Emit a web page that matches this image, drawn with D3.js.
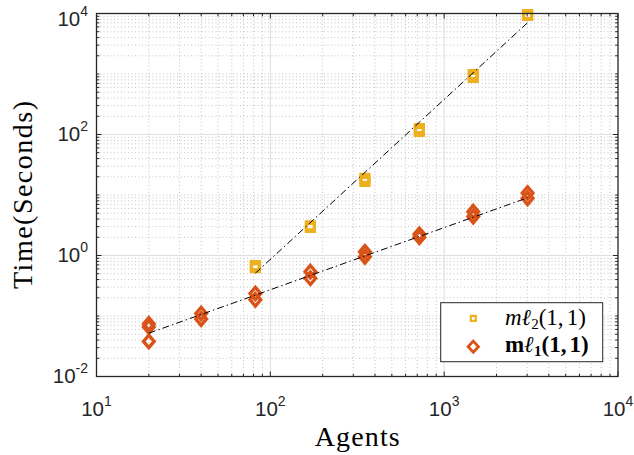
<!DOCTYPE html>
<html>
<head>
<meta charset="utf-8">
<script src="https://cdn.jsdelivr.net/npm/d3@7"></script>
<style>
  html, body { margin: 0; padding: 0; background: #fff; }
  svg { display: block; }
</style>
</head>
<body>
<svg id="chart" width="634" height="455"></svg>
<script>
// Number of agents at each benchmark size
const agents = [20, 40, 82, 170, 350, 720, 1470, 3020];

// Run times (seconds), two runs of mℓ2(1,1); it was not run for the two smallest sizes
const timeMl2RunA = [null, null, 0.63, 2.9, 16.8, 112, 880, 9300];
const timeMl2RunB = [null, null, 0.68, 3.1, 18.8, 125, 980, 9600];

// Run times (seconds) of mℓ1(1,1)
const timeMl1RunA = [0.074, 0.11, 0.235, 0.54, 1.15, 2.25, 5.3, 10.8];
const timeMl1RunB = [0.066, 0.089, 0.185, 0.42, 0.95, 2.0, 4.4, 8.8];
const timeMl1RunC = [0.038, null, null, null, null, null, null, null];

// Power-law fit lines (end points)
const fitMl2Agents = [82, 3020];
const fitMl2Time = [0.51, 7050];
const fitMl1Agents = [20, 3020];
const fitMl1Time = [0.052, 9.0];

// Axis ticks (powers of ten)
const xTickExps = [1, 2, 3, 4];
const yTickExps = [-2, 0, 2, 4];

const colMl2 = "#EDB120";
const colMl1 = "#D95319";
const axisCol = "#262626";

const svg = d3.select("#chart");
const L = 96.5, R = 618, T = 13.5, B = 376.5;

const x = d3.scaleLog().domain([10, 1e4]).range([L, R]);
const y = d3.scaleLog().domain([1e-2, 1e4]).range([B, T]);

// Grid values
const xMajor = xTickExps.map(e => Math.pow(10, e));
const yMajor = yTickExps.map(e => Math.pow(10, e));
const xMinor = [];
for (let e = 1; e < 4; e++) for (let k = 2; k <= 9; k++) xMinor.push(k * Math.pow(10, e));
const yMinor = [];
for (let e = -2; e < 4; e++) for (let k = 1; k <= 9; k++) {
  const v = k * Math.pow(10, e);
  if (!yMajor.some(m => Math.abs(m - v) / m < 1e-9)) yMinor.push(v);
}

const grid = svg.append("g");
// minor grid (dotted)
grid.selectAll("line.xmin").data(xMinor).join("line")
  .attr("x1", d => x(d)).attr("x2", d => x(d)).attr("y1", T).attr("y2", B)
  .attr("stroke", "#c4c4c4").attr("stroke-width", 1).attr("stroke-dasharray", "1,2.5");
grid.selectAll("line.ymin").data(yMinor).join("line")
  .attr("y1", d => y(d)).attr("y2", d => y(d)).attr("x1", L).attr("x2", R)
  .attr("stroke", "#c4c4c4").attr("stroke-width", 1).attr("stroke-dasharray", "1,2.5");
// major grid (solid)
grid.selectAll("line.xmaj").data(xMajor.slice(1, -1)).join("line")
  .attr("x1", d => x(d)).attr("x2", d => x(d)).attr("y1", T).attr("y2", B)
  .attr("stroke", "#dedede").attr("stroke-width", 1);
grid.selectAll("line.ymaj").data(yMajor.slice(1, -1)).join("line")
  .attr("y1", d => y(d)).attr("y2", d => y(d)).attr("x1", L).attr("x2", R)
  .attr("stroke", "#dedede").attr("stroke-width", 1);

// Markers
const sqPath = "M-4,-4H4V4H-4Z";
const dmPath = "M0,-6.2L5.3,0L0,6.2L-5.3,0Z";

function points(vals) {
  return agents.map((a, i) => ({ a, v: vals[i] })).filter(d => d.v != null);
}

const marks = svg.append("g");
[timeMl2RunA, timeMl2RunB].forEach(run => {
  marks.append("g").selectAll("path").data(points(run)).join("path")
    .attr("d", sqPath)
    .attr("transform", d => `translate(${x(d.a)},${y(d.v)})`)
    .attr("fill", "none").attr("stroke", colMl2).attr("stroke-width", 3.2);
});
[timeMl1RunA, timeMl1RunB, timeMl1RunC].forEach(run => {
  marks.append("g").selectAll("path").data(points(run)).join("path")
    .attr("d", dmPath)
    .attr("transform", d => `translate(${x(d.a)},${y(d.v)})`)
    .attr("fill", "none").attr("stroke", colMl1).attr("stroke-width", 3.4)
    .attr("stroke-linejoin", "miter");
});

// Fit lines
const line = d3.line().x(d => x(d[0])).y(d => y(d[1]));
[[fitMl2Agents, fitMl2Time], [fitMl1Agents, fitMl1Time]].forEach(([xs, ys]) => {
  svg.append("path")
    .attr("d", line(xs.map((a, i) => [a, ys[i]])))
    .attr("fill", "none").attr("stroke", "#000").attr("stroke-width", 1)
    .attr("stroke-dasharray", "7,3,1.5,3");
});

// Axes box and ticks (inward on all sides)
const ax = svg.append("g").attr("stroke", axisCol).attr("stroke-width", 1);
const majLen = 5, minLen = 2.8;
ax.selectAll("line.xt").data(xMajor.map(v => [v, majLen]).concat(xMinor.map(v => [v, minLen])))
  .join(enter => {
    const g = enter.append("g");
    g.append("line").attr("x1", d => x(d[0])).attr("x2", d => x(d[0])).attr("y1", B).attr("y2", d => B - d[1]);
    g.append("line").attr("x1", d => x(d[0])).attr("x2", d => x(d[0])).attr("y1", T).attr("y2", d => T + d[1]);
    return g;
  });
ax.selectAll("line.yt").data(yMajor.map(v => [v, majLen]).concat(yMinor.map(v => [v, minLen])))
  .join(enter => {
    const g = enter.append("g");
    g.append("line").attr("y1", d => y(d[0])).attr("y2", d => y(d[0])).attr("x1", L).attr("x2", d => L + d[1]);
    g.append("line").attr("y1", d => y(d[0])).attr("y2", d => y(d[0])).attr("x1", R).attr("x2", d => R - d[1]);
    return g;
  });
svg.append("rect").attr("x", L).attr("y", T).attr("width", R - L).attr("height", B - T)
  .attr("fill", "none").attr("stroke", axisCol).attr("stroke-width", 1.3);

// Tick labels
const tickFont = "'Liberation Sans', Arial, Helvetica, sans-serif";
const xl = svg.append("g").attr("font-family", tickFont).attr("fill", axisCol);
xTickExps.forEach(e => {
  const t = xl.append("text").attr("x", x(Math.pow(10, e))).attr("y", 416)
    .attr("text-anchor", "middle");
  t.append("tspan").attr("font-size", 20.5).text("10");
  t.append("tspan").attr("font-size", 14).attr("dy", -10).text(String(e));
});
const yl = svg.append("g").attr("font-family", tickFont).attr("fill", axisCol);
yTickExps.forEach(e => {
  const py = Math.max(y(Math.pow(10, e)) + 6, 26);
  const t = yl.append("text").attr("x", 88).attr("y", py).attr("text-anchor", "end");
  t.append("tspan").attr("font-size", 20.5).text("10");
  t.append("tspan").attr("font-size", 14).attr("dy", -10).text(String(e));
});

// Axis titles
const serif = "'Liberation Serif', 'Times New Roman', serif";
svg.append("text").attr("x", (L + R) / 2).attr("y", 446)
  .attr("text-anchor", "middle").attr("font-family", serif).attr("font-size", 28)
  .attr("fill", "#000").attr("textLength", 85).attr("lengthAdjust", "spacing").text("Agents");
svg.append("text").attr("transform", `translate(32,${(T + B) / 2}) rotate(-90)`)
  .attr("text-anchor", "middle").attr("font-family", serif).attr("font-size", 28)
  .attr("fill", "#000").attr("textLength", 188).attr("lengthAdjust", "spacing").text("Time(Seconds)");

// Legend
const lg = svg.append("g");
lg.append("rect").attr("x", 440.7).attr("y", 302.7).attr("width", 162).attr("height", 59)
  .attr("fill", "#fff").attr("stroke", axisCol).attr("stroke-width", 1);
lg.append("path").attr("d", "M-2.5,-2.5H2.5V2.5H-2.5Z").attr("transform", "translate(473.3,318.3)")
  .attr("fill", "none").attr("stroke", colMl2).attr("stroke-width", 2.2);
lg.append("path").attr("d", "M0,-5.6L5.2,0L0,5.6L-5.2,0Z").attr("transform", "translate(473.3,346.7)")
  .attr("fill", "none").attr("stroke", colMl1).attr("stroke-width", 2.8);

const t1 = lg.append("text").attr("x", 505).attr("y", 325).attr("font-family", serif)
  .attr("font-size", 23).attr("fill", "#000");
t1.append("tspan").attr("font-style", "italic").text("mℓ");
t1.append("tspan").attr("font-size", 15).attr("dy", 4).text("2");
t1.append("tspan").attr("dy", -4).text("(1,");
t1.append("tspan").attr("dx", 3).text("1)");

const t2 = lg.append("text").attr("x", 505).attr("y", 352).attr("font-family", serif)
  .attr("font-size", 23).attr("font-weight", "bold").attr("fill", "#000");
t2.append("tspan").text("m");
t2.append("tspan").attr("font-style", "italic").text("ℓ");
t2.append("tspan").attr("font-size", 15).attr("dy", 4).text("1");
t2.append("tspan").attr("dy", -4).text("(1,");
t2.append("tspan").attr("dx", 3).text("1)");
</script>
</body>
</html>
